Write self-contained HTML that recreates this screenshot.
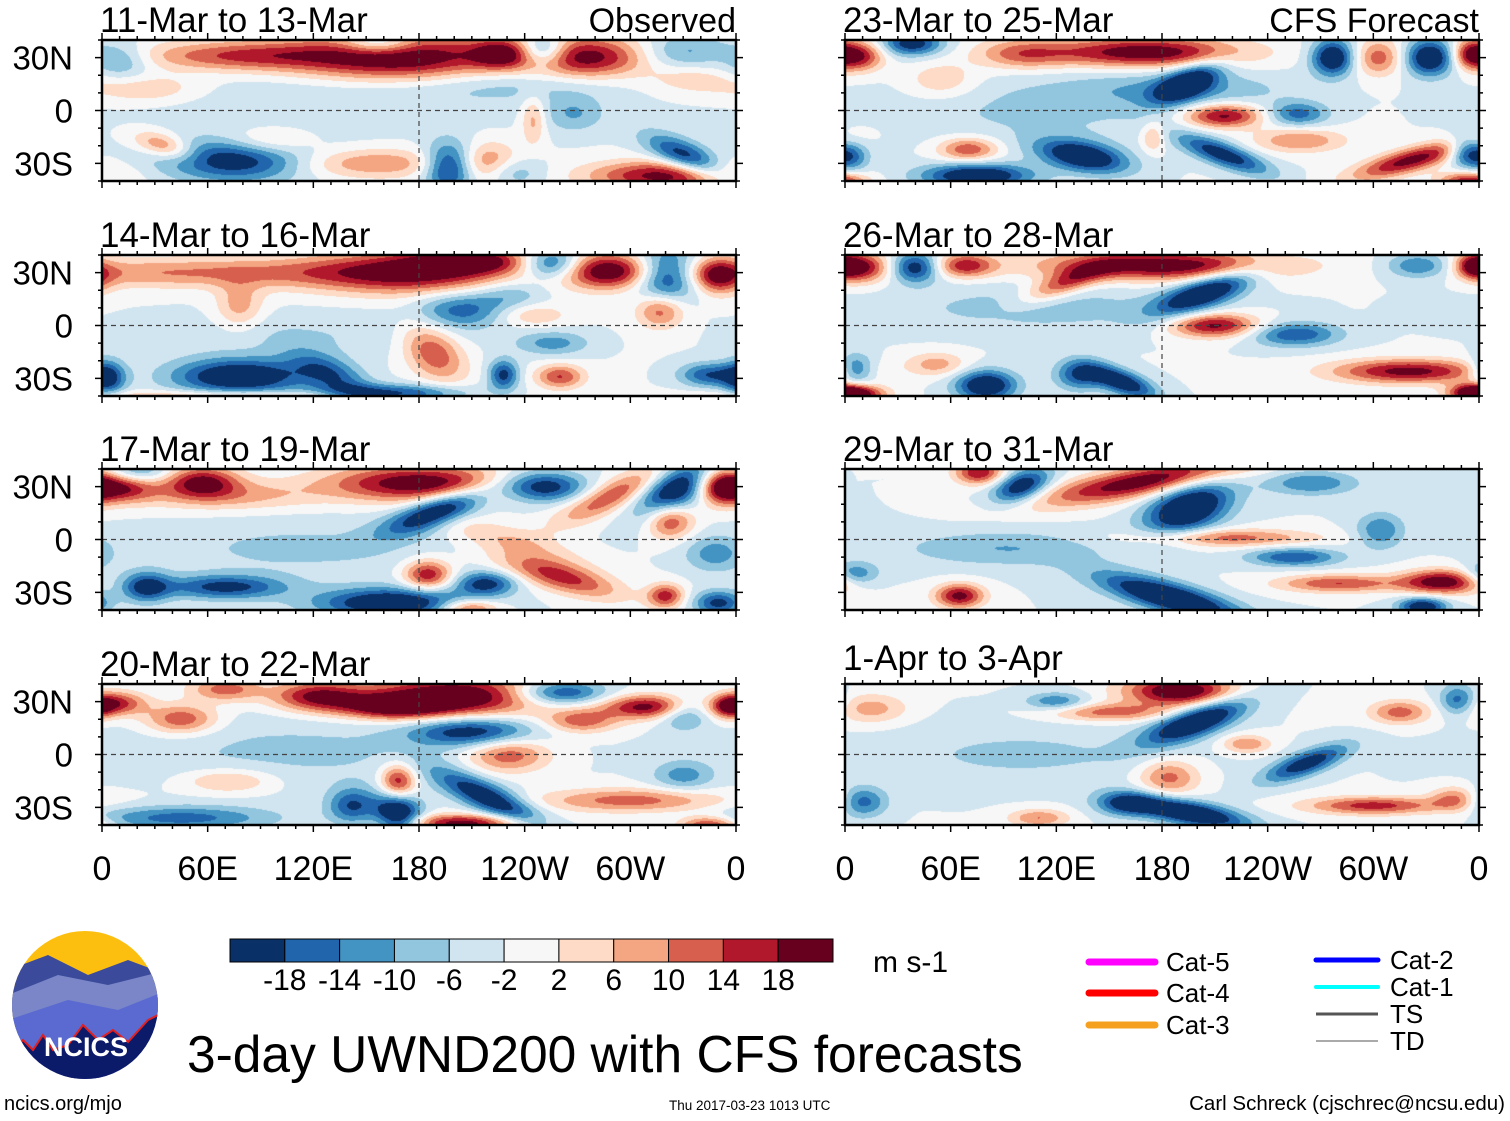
<!DOCTYPE html>
<html><head><meta charset="utf-8"><style>
body{margin:0;background:#fff;width:1510px;height:1121px;overflow:hidden;position:relative;font-family:"Liberation Sans",sans-serif}
.t{position:absolute;white-space:nowrap;color:#000}
canvas{position:absolute}
</style></head><body>
<div id="root"></div>
<svg id="ov" width="1510" height="1121" style="position:absolute;left:0;top:0"></svg>

<svg width="160" height="160" style="position:absolute;left:8px;top:930px">
<defs><clipPath id="lc"><ellipse cx="77" cy="75" rx="73" ry="74"/></clipPath></defs>
<g clip-path="url(#lc)">
<rect width="160" height="160" fill="#fdbf0f"/>
<path d="M0 40 L40 25 L80 45 L120 30 L160 45 L160 160 L0 160Z" fill="#3b4a9a"/>
<path d="M0 65 L50 45 L100 55 L160 40 L160 160 L0 160Z" fill="#7a86c8"/>
<path d="M0 90 L60 70 L110 80 L160 60 L160 160 L0 160Z" fill="#5a6ad0"/>
<path d="M0 125 L15 110 L25 120 L35 105 L45 120 L60 115 L75 95 L90 110 L105 100 L120 112 L140 90 L160 80 L160 160 L0 160Z" fill="#0c1a6a" stroke="#e02020" stroke-width="2"/>
</g>
<text x="78" y="126" text-anchor="middle" font-family="Liberation Sans" font-weight="bold" font-size="27" fill="#fff">NCICS</text>
</svg>

<div class="t" style="left:873px;top:946px;font-size:30px">m s-1</div>
<div class="t" style="left:187px;top:1024px;font-size:51.5px">3-day UWND200 with CFS forecasts</div>
<div class="t" style="left:4px;top:1093px;font-size:20px">ncics.org/mjo</div>
<div class="t" style="left:669px;top:1098px;font-size:13.5px">Thu 2017-03-23 1013 UTC</div>
<div class="t" style="right:5px;top:1092px;font-size:20.5px">Carl Schreck (cjschrec@ncsu.edu)</div>

<svg width="460" height="110" style="position:absolute;left:1070px;top:940px">
<g><line x1="19" y1="22" x2="85" y2="22" stroke="#ff00ff" stroke-width="7" stroke-linecap="round"/><text x="96" y="31" font-size="26" font-family="Liberation Sans">Cat-5</text></g>
<g><line x1="19" y1="53" x2="85" y2="53" stroke="#f00" stroke-width="7" stroke-linecap="round"/><text x="96" y="62" font-size="26" font-family="Liberation Sans">Cat-4</text></g>
<g><line x1="19" y1="85" x2="85" y2="85" stroke="#f6a020" stroke-width="7" stroke-linecap="round"/><text x="96" y="94" font-size="26" font-family="Liberation Sans">Cat-3</text></g>
<g><line x1="246" y1="20" x2="308" y2="20" stroke="#0000ff" stroke-width="5" stroke-linecap="round"/><text x="320" y="29" font-size="26" font-family="Liberation Sans">Cat-2</text></g>
<g><line x1="246" y1="47" x2="308" y2="47" stroke="#00ffff" stroke-width="4" stroke-linecap="round"/><text x="320" y="56" font-size="26" font-family="Liberation Sans">Cat-1</text></g>
<g><line x1="246" y1="74" x2="308" y2="74" stroke="#555" stroke-width="3"/><text x="320" y="83" font-size="26" font-family="Liberation Sans">TS</text></g>
<g><line x1="246" y1="101" x2="308" y2="101" stroke="#aaa" stroke-width="2"/><text x="320" y="110" font-size="26" font-family="Liberation Sans">TD</text></g>
</svg>

<script>
// ---- chart data ----
const levels = [-18,-14,-10,-6,-2,2,6,10,14,18];
const colors = ["#0a3068","#2166ac","#4393c3","#92c5de","#d1e5f0","#f7f7f7","#fddbc7","#f4a582","#d6604d","#b2182b","#67001f"];
const levelLabels = ["-18","-14","-10","-6","-2","2","6","10","14","18"];
const lonTicks = [0,60,120,180,240,300,360];
const lonLabels = ["0","60E","120E","180","120W","60W","0"];
const latTicks = [30,0,-30];
const latLabels = ["30N","0","30S"];
const panelTitles = ["11-Mar to 13-Mar","14-Mar to 16-Mar","17-Mar to 19-Mar","20-Mar to 22-Mar","23-Mar to 25-Mar","26-Mar to 28-Mar","29-Mar to 31-Mar","1-Apr to 3-Apr"];
// background anomaly per panel (m/s)
const panelBias = [-1.9,-1.8,-1.9,-1.9,-1.8,-1.9,-2.0,-1.9];
// blobs: [lon, lat, value (m/s), lon-radius, lat-radius, tilt]
const field1 = [[170,30,25,35,8,0],[227,32,16,10,5,0],[275,30,22,20,7,0],[80,31,16,35,5,0],[25,12,8,20,5,0],[10,28,-10,10,6,0],[157,38,-14,12,4,0],[250,34,-18,8,5,0],[331,33,-10,15,6,0],[335,18,7,15,5,0],[230,15,-6,40,6,0],[120,5,-4,60,10,0],[78,-28,-22,25,7,0],[95,-18,10,15,5,0],[150,-30,12,30,5,0],[35,-20,14,10,4,-15],[197,-32,-22,8,8,0],[220,-30,12,10,7,0],[320,-37,22,25,5,0],[333,-27,-20,15,5,-25],[245,-5,10,4,8,0],[268,-2,-8,10,6,0],[232,-35,-10,10,5,0]];
const field2 = [[175,30,22,35,7,0],[210,37,18,20,4,0],[50,30,12,60,5,0],[287,31,22,15,6,0],[255,35,-20,10,5,0],[320,28,-22,10,9,0],[350,28,18,8,6,0],[317,9,16,8,6,0],[78,11,10,8,8,0],[204,9,-14,15,6,0],[232,18,-8,12,5,0],[244,6,8,12,4,0],[188,-15,16,8,12,50],[78,-29,-24,22,6,0],[3,-30,-18,6,6,0],[130,-28,-14,15,6,-25],[165,-39,-20,25,3,0],[260,-29,16,8,4,0],[228,-28,-18,5,5,0],[256,-10,-10,12,4,0],[345,-28,-16,10,4,0],[80,-40,10,60,2,0],[120,-5,-4,50,8,0]];
const field3 = [[180,32,24,30,6,0],[190,16,-24,18,5,20],[10,30,20,12,5,0],[57,33,20,12,5,0],[70,25,10,30,5,0],[20,38,-12,10,4,0],[250,30,-22,14,5,0],[290,25,16,20,5,25],[325,28,-24,14,7,30],[352,30,22,8,6,0],[322,11,18,8,6,0],[230,0,8,25,5,-15],[185,-20,20,8,5,0],[260,-21,18,20,5,-15],[165,-36,-24,25,5,0],[70,-27,-18,20,4,0],[25,-27,-18,8,5,0],[218,-25,-18,10,4,0],[320,-32,18,6,4,0],[208,-39,18,10,3,0],[348,-8,-10,10,6,0],[350,-36,-18,8,4,0],[110,-5,-5,50,10,0]];
const field4 = [[200,33,26,30,7,0],[122,33,20,15,5,0],[165,27,20,18,4,0],[8,29,18,10,4,0],[45,20,16,12,5,0],[70,37,14,12,4,0],[210,13,-20,20,5,0],[260,35,-20,15,4,0],[310,27,22,15,4,0],[272,19,14,12,4,0],[330,23,-12,8,5,0],[356,27,18,6,4,0],[230,0,16,14,6,0],[168,-16,22,6,6,0],[168,-33,-26,8,7,-40],[220,-25,-22,20,5,-25],[142,-29,-16,8,6,0],[300,-26,14,30,4,0],[205,-39,22,20,3,0],[345,-40,18,10,3,0],[72,-15,10,15,4,0],[45,-36,-14,30,4,0],[330,-12,-10,10,5,0],[110,2,-5,60,12,0]];
const field5 = [[170,33,24,32,5,0],[100,32,12,15,5,0],[8,31,20,8,5,0],[38,38,-20,10,4,0],[55,17,8,12,6,0],[195,16,-22,12,5,25],[190,12,-8,35,6,0],[277,30,-24,7,6,0],[332,30,-24,8,6,0],[303,30,14,8,6,0],[355,32,18,6,5,0],[215,-3,22,13,4,0],[257,-2,-14,10,4,0],[135,-26,-24,15,5,-10],[75,-37,-24,18,4,0],[70,-22,16,10,4,0],[215,-25,-20,16,4,-20],[258,-17,12,15,4,0],[322,-28,22,20,4,15],[175,-15,10,4,5,0],[352,-23,-16,6,5,0],[3,-26,-14,6,5,0],[355,-40,20,10,3,0],[110,0,-5,50,12,0]];
const field6 = [[180,34,24,40,5,0],[125,24,16,15,4,20],[8,33,22,10,5,0],[68,34,18,10,4,0],[40,33,-20,8,5,0],[205,19,-24,18,5,20],[210,0,22,15,4,0],[255,-5,-16,15,4,0],[80,-34,-24,10,5,0],[157,-32,-22,12,4,-20],[133,-28,-16,8,5,0],[320,-26,22,25,4,0],[52,-22,10,10,4,0],[6,-39,22,10,3,0],[357,-38,20,8,3,0],[6,-25,-16,6,5,0],[325,34,-12,10,4,0],[357,34,16,6,4,0],[110,10,-6,50,8,0]];
const field7 = [[170,33,24,35,5,10],[76,38,20,8,4,0],[100,30,-22,10,5,20],[195,18,-26,15,8,20],[215,1,14,30,3,0],[255,-10,-16,15,3,0],[185,-33,-26,25,5,-15],[340,-24,24,14,4,0],[280,-25,16,20,3,0],[65,-32,22,8,4,0],[328,-38,-22,8,3,0],[304,5,-12,8,6,0],[5,-20,-14,8,4,0],[90,-5,-8,35,6,0],[265,32,-12,15,4,0]];
const field8 = [[190,36,26,18,5,0],[150,24,14,20,3,0],[200,19,-26,18,5,20],[120,30,-12,10,3,0],[315,24,14,10,4,0],[348,31,-14,6,5,0],[228,6,12,8,3,0],[262,-5,-20,15,4,20],[184,-13,14,10,6,0],[195,-33,-26,20,4,-10],[160,-28,-16,10,4,0],[300,-29,18,22,3,0],[110,-36,12,10,3,0],[10,-27,-14,8,5,0],[15,26,10,12,5,0],[346,-25,12,8,4,0],[100,0,-5,50,10,0]];
const fields = [field1,field2,field3,field4,field5,field6,field7,field8];

// ---- layout ----
const colX = [102,845], rowY = [40,255,469,684], PW = 634, PH = 141;
const SPREAD = 1.7;
const lonToX = (lon, x0) => x0 + lon / 360 * PW;
const latToY = (lat, y0) => y0 + (40 - lat) / 80 * PH;
const hex = c => [parseInt(c.slice(1,3),16),parseInt(c.slice(3,5),16),parseInt(c.slice(5,7),16)];
const rgbs = colors.map(hex);

const root = document.getElementById('root');
const ov = document.getElementById('ov');
const NS = 'http://www.w3.org/2000/svg';
function sv(tag, attrs, parent){ const e=document.createElementNS(NS,tag); for(const k in attrs) e.setAttribute(k,attrs[k]); (parent||ov).appendChild(e); return e; }

fields.forEach((blobs, p) => {
  const col = p < 4 ? 0 : 1, row = p % 4;
  const x0 = colX[col], y0 = rowY[row];
  const cv = document.createElement('canvas');
  
  
  cv.width = PW; cv.height = PH;
  cv.style.left = x0 + 'px'; cv.style.top = y0 + 'px';
  root.appendChild(cv);
  const ctx = cv.getContext('2d');
  const img = ctx.createImageData(PW, PH);
  const pre = blobs.map(b => { const t=b[5]*Math.PI/180; const rx=b[3]*SPREAD, ry=b[4]*SPREAD; return [b[0],b[1],b[2],1/(rx*rx),1/(ry*ry),Math.cos(t),Math.sin(t)]; });
  for (let py = 0; py < PH; py++) {
    const lat = 40 - (py + 0.5) / PH * 80;
    for (let px = 0; px < PW; px++) {
      const lon = (px + 0.5) / PW * 360;
      let v = panelBias[p];
      for (const b of pre) {
        let dx = lon - b[0]; if (dx > 180) dx -= 360; if (dx < -180) dx += 360;
        const dy = lat - b[1];
        const u = dx*b[5] + dy*b[6], w = -dx*b[6] + dy*b[5];
        const e = u*u*b[3] + w*w*b[4];
        if (e < 16) v += b[2] * Math.exp(-e);
      }
      let i = 0; while (i < levels.length && v >= levels[i]) i++;
      const c = rgbs[i], k = (py*PW+px)*4;
      img.data[k]=c[0]; img.data[k+1]=c[1]; img.data[k+2]=c[2]; img.data[k+3]=255;
    }
  }
  ctx.putImageData(img, 0, 0);

  const eq = sv('line',{x1:x0,x2:x0+PW,y1:latToY(0,y0),y2:latToY(0,y0),stroke:'#444','stroke-width':1.2,'stroke-dasharray':'5,4'});
  
  
  const dl = sv('line',{x1:lonToX(180,x0),x2:lonToX(180,x0),y1:y0,y2:y0+PH,stroke:'#444','stroke-width':1.2,'stroke-dasharray':'5,4'});
  
  
  const fr = sv('rect',{x:x0,y:y0,width:PW,height:PH,fill:'none',stroke:'#000','stroke-width':2.5});
  
  
  for (let lon = 0; lon <= 360; lon += 10) {
    const x = lonToX(lon, x0), L = lon % 60 === 0 ? 7 : 4;
    sv('line',{x1:x,x2:x,y1:y0+PH,y2:y0+PH+L,stroke:'#000','stroke-width':1.5});
    sv('line',{x1:x,x2:x,y1:y0,y2:y0-L,stroke:'#000','stroke-width':1.5});
  }
  for (let lat = -40; lat <= 40; lat += 10) {
    const y = latToY(lat, y0), L = lat % 30 === 0 ? 7 : 4;
    sv('line',{x1:x0,x2:x0-L,y1:y,y2:y,stroke:'#000','stroke-width':1.5});
    sv('line',{x1:x0+PW,x2:x0+PW+L,y1:y,y2:y,stroke:'#000','stroke-width':1.5});
  }
  const tt = sv('text',{x:x0-2,y:y0-8 - (p===7?6:0),'font-size':35,'font-family':'Liberation Sans'});
  tt.textContent = panelTitles[p];
  
  
  if (p === 0 || p === 4) {
    const tr = sv('text',{x:x0+PW,y:y0-8,'font-size':34,'font-family':'Liberation Sans','text-anchor':'end'});
    tr.textContent = p === 0 ? 'Observed' : 'CFS Forecast';
    
    
  }
  if (col === 0) {
    latTicks.forEach((lat, i) => {
      const lt = sv('text',{x:73,y:latToY(lat,y0)+12,'font-size':33,'font-family':'Liberation Sans','text-anchor':'end'});
      lt.textContent = latLabels[i];
      
      
    });
  }
  if (row === 3) {
    lonTicks.forEach((lon, i) => {
      const xt = sv('text',{x:lonToX(lon,x0),y:880,'font-size':34,'font-family':'Liberation Sans','text-anchor':'middle'});
      xt.textContent = lonLabels[i];
      
      
    });
  }
});

const cbX = 230, cbY = 939, cbW = 603, cbH = 23, bw = cbW / colors.length;
colors.forEach((c, i) => {
  const r = sv('rect',{x:cbX+i*bw,y:cbY,width:bw,height:cbH,fill:c,stroke:'#000','stroke-width':1});
  
  
});
levelLabels.forEach((lab, i) => {
  const t = sv('text',{x:cbX+(i+1)*bw,y:990,'font-size':30,'font-family':'Liberation Sans','text-anchor':'middle'});
  t.textContent = lab;
  
  
});
</script>
</body></html>
